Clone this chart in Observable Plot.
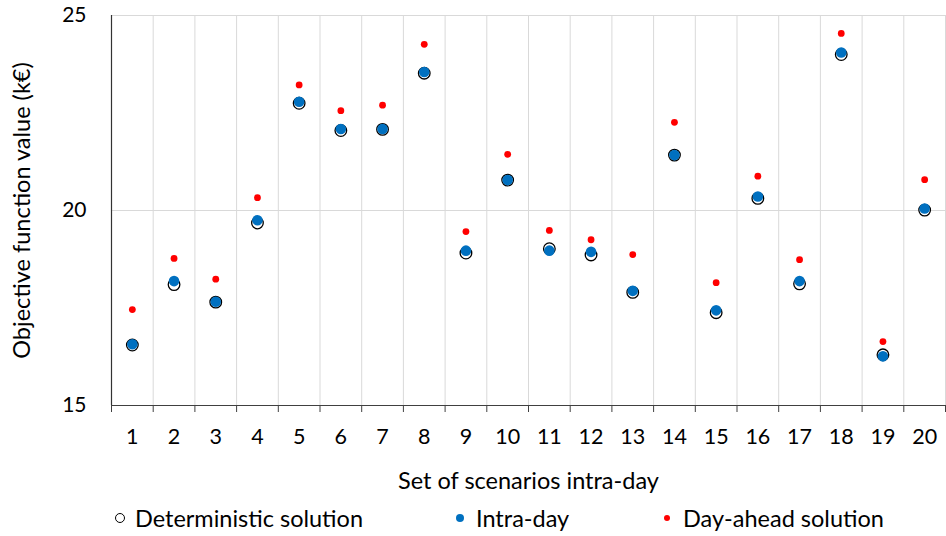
<!DOCTYPE html>
<html>
<head>
<meta charset="utf-8">
<script src="https://cdn.jsdelivr.net/npm/d3@7"></script>
<script src="https://cdn.jsdelivr.net/npm/@observablehq/plot@0.6"></script>
<style>
  body { margin: 0; background: #fff; font-family: Lato, "Open Sans", sans-serif; }
  #chart { width: 946px; }
  #legend { display: flex; font-size: 23.5px; color: #000; height: 36px; align-items: center; position: relative; }
  .item { position: absolute; display: flex; align-items: center; top: 0; height: 36px; }
  .sym { display: inline-block; border-radius: 50%; }
</style>
</head>
<body>
<div id="chart"></div>
<div id="legend">
  <div class="item" style="left:115px"><span class="sym" style="width:8px;height:8px;border:1.2px solid #000;background:#fff;margin-right:10px"></span>Deterministic solution</div>
  <div class="item" style="left:456px"><span class="sym" style="width:8px;height:8px;background:#0070C0;margin-right:12px"></span>Intra-day</div>
  <div class="item" style="left:664px"><span class="sym" style="width:6px;height:6px;background:#FF0000;margin-right:13px"></span>Day-ahead solution</div>
</div>
<script>
const scenarios = [1,2,3,4,5,6,7,8,9,10,11,12,13,14,15,16,17,18,19,20];
const deterministic = [16.55,18.10,17.65,19.68,22.75,22.05,22.08,23.52,18.91,20.78,19.02,18.86,17.90,21.42,17.38,20.31,18.12,24.00,16.30,20.01];
const intraDay      = [16.57,18.19,17.66,19.75,22.79,22.09,22.09,23.55,18.97,20.78,18.97,18.94,17.94,21.42,17.44,20.36,18.19,24.05,16.26,20.05];
const dayAhead      = [17.46,18.77,18.24,20.33,23.22,22.56,22.70,24.26,19.46,21.44,19.49,19.25,18.87,22.26,18.15,20.88,18.74,24.54,16.64,20.79];
const yTicks = [15, 20, 25];

const det = scenarios.map((s, i) => ({s, v: deterministic[i]}));
const intra = scenarios.map((s, i) => ({s, v: intraDay[i]}));
const ahead = scenarios.map((s, i) => ({s, v: dayAhead[i]}));
const bounds = d3.range(0, scenarios.length + 1).map(i => i + 0.5);

const chart = Plot.plot({
  width: 946,
  height: 500,
  marginLeft: 111,
  marginRight: 1,
  marginTop: 15,
  marginBottom: 95,
  style: { fontFamily: "Lato, 'Open Sans', sans-serif", fontSize: "21px", color: "#000", background: "#fff" },
  x: { domain: [0.5, scenarios.length + 0.5] },
  y: { domain: [15, 25] },
  marks: [
    Plot.ruleX(bounds.slice(1), { stroke: "#d9d9d9", strokeWidth: 1, strokeOpacity: 1 }),
    Plot.ruleY(yTicks.slice(1), { stroke: "#d9d9d9", strokeWidth: 1 }),
    Plot.axisY({ ticks: yTicks, tickSize: 0, tickPadding: 25, label: "Objective function value (k€)", labelAnchor: "center", labelArrow: "none", labelOffset: 98, fontSize: 21 }),
    Plot.axisX({ ticks: bounds, tickSize: 7, tickFormat: () => "", stroke: "#404040", label: null }),
    Plot.axisX({ ticks: scenarios, tickSize: 0, tickPadding: 23, tickFormat: d => String(d), label: "Set of scenarios intra-day", labelAnchor: "center", labelArrow: "none", labelOffset: 83, fontSize: 21.5 }),
    Plot.ruleX([0.5], { stroke: "#333", strokeWidth: 1.2 }),
    Plot.ruleY([15], { stroke: "#404040", strokeWidth: 1.2 }),
    Plot.dot(det, { x: "s", y: "v", r: 5.8, fill: "#fff", stroke: "#000", strokeWidth: 1.3 }),
    Plot.dot(intra, { x: "s", y: "v", r: 5.3, fill: "#0070C0", stroke: "none" }),
    Plot.dot(ahead, { x: "s", y: "v", r: 3.4, fill: "#FF0000", stroke: "none" })
  ]
});
chart.querySelectorAll('g[aria-label="y-axis label"], g[aria-label="x-axis label"]').forEach(g => {
  g.setAttribute("font-size", "23.5px");
  g.querySelectorAll("text").forEach(t => t.setAttribute("font-size", "23.5px"));
});
document.getElementById("chart").append(chart);
</script>
</body>
</html>
